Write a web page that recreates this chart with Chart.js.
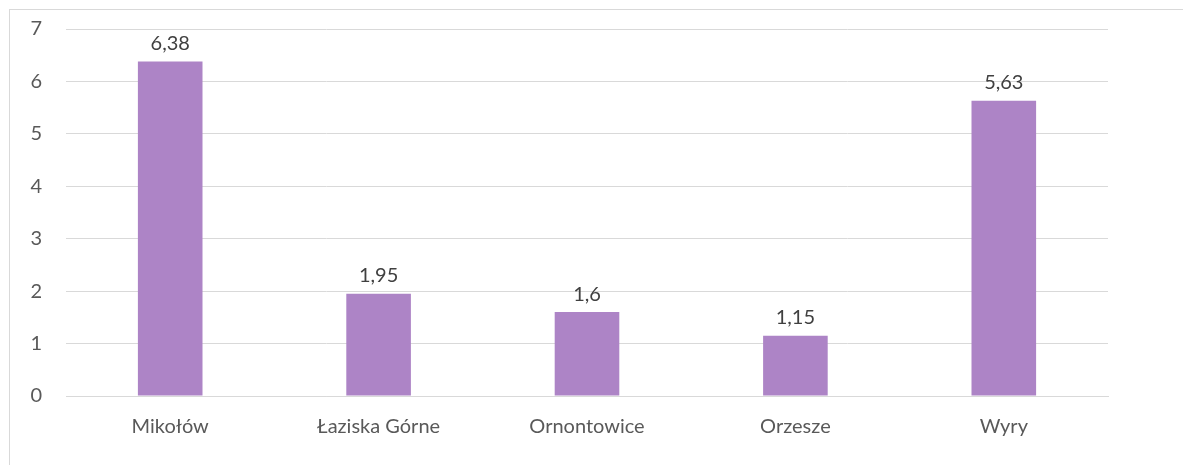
<!DOCTYPE html>
<html>
<head>
<meta charset="utf-8">
<script src="https://cdn.jsdelivr.net/npm/chart.js@4.4.0/dist/chart.umd.min.js"></script>
<style>
  html, body { margin: 0; padding: 0; background: #fff; overflow: hidden; }
  #wrap { position: relative; width: 1183px; height: 465px; }
  #frame { position: absolute; left: 9px; top: 9px; width: 1300px; height: 600px; border: 1px solid #d9d9d9; }
  canvas { position: absolute; left: 0; top: 0; }
</style>
</head>
<body>
<div id="wrap">
  <div id="frame"></div>
  <canvas id="barChart" width="1183" height="465"></canvas>
</div>
<script>
const categories = ['Mikołów', 'Łaziska Górne', 'Ornontowice', 'Orzesze', 'Wyry']
const values = [6.38, 1.95, 1.6, 1.15, 5.63]
const yTicks = [0, 1, 2, 3, 4, 5, 6, 7]

const fontFamily = 'Lato, "Open Sans", sans-serif'

// value labels above each bar, polish decimal comma
const barLabels = {
  id: 'barLabels',
  afterDatasetsDraw (chart) {
    const { ctx } = chart
    const meta = chart.getDatasetMeta(0)
    ctx.save()
    ctx.font = '20px ' + fontFamily
    ctx.fillStyle = '#404040'
    ctx.textAlign = 'center'
    ctx.textBaseline = 'bottom'
    meta.data.forEach((bar, i) => {
      ctx.fillText(String(values[i]).replace('.', ','), bar.x, bar.y - 8)
    })
    ctx.restore()
  }
}

new Chart(document.getElementById('barChart'), {
  type: 'bar',
  plugins: [barLabels],
  data: {
    labels: categories,
    datasets: [
      {
        data: values,
        backgroundColor: '#ad84c6',
        barPercentage: 0.62,
        categoryPercentage: 0.5
      }
    ]
  },
  options: {
    responsive: false,
    animation: false,
    layout: { padding: { left: 16, right: 75, top: 29, bottom: 19 } },
    plugins: { legend: { display: false }, tooltip: { enabled: false } },
    scales: {
      x: {
        grid: { display: false },
        border: { color: '#d9d9d9', width: 1 },
        ticks: { color: '#595959', font: { size: 20, family: fontFamily }, padding: 11 },
        afterFit (scale) { scale.height = 50; scale.paddingLeft = 0; scale.paddingRight = 0 }
      },
      y: {
        min: 0,
        max: 7,
        afterBuildTicks (scale) { scale.ticks = yTicks.map(v => ({ value: v })) },
        grid: { color: '#d9d9d9', lineWidth: 1, drawTicks: false },
        border: { display: false },
        ticks: { color: '#595959', font: { size: 20, family: fontFamily }, padding: 24 },
        afterFit (scale) { scale.width = 50; scale.paddingTop = 0; scale.paddingBottom = 0 }
      }
    }
  }
})
</script>
</body>
</html>
